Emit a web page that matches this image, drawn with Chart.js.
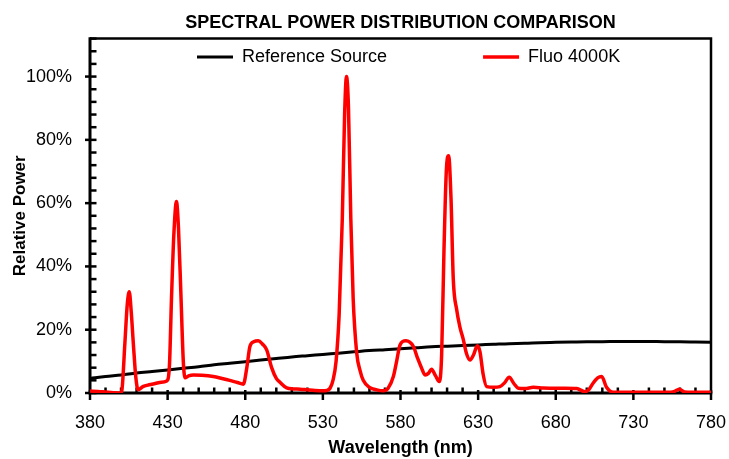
<!DOCTYPE html>
<html><head><meta charset="utf-8">
<script src="https://cdn.jsdelivr.net/npm/chart.js@4"></script>
<style>html,body{margin:0;padding:0;background:#fff;} canvas{display:block;}</style>
</head><body>
<canvas id="c" width="729" height="459"></canvas>
<script>
const chartTitle = 'SPECTRAL POWER DISTRIBUTION COMPARISON';
const seriesNames = ['Reference Source', 'Fluo 4000K'];
const xAxisTitle = 'Wavelength (nm)';
const yAxisTitle = 'Relative Power';
const xTickLabels = [380, 430, 480, 530, 580, 630, 680, 730, 780];
const yTickLabels = [0, 20, 40, 60, 80, 100];

const refWavelengths = [380,390,400,410,420,430,440,450,460,470,480,490,500,510,520,530,540,550,560,570,580,590,600,610,620,630,640,650,660,670,680,690,700,710,720,730,740,750,760,770,780];
const refPower = [4.6,5.2,5.7,6.3,6.8,7.3,7.8,8.3,8.9,9.4,9.9,10.4,10.9,11.4,11.8,12.2,12.6,13.0,13.4,13.7,14.0,14.3,14.6,14.8,15.0,15.2,15.4,15.6,15.7,15.9,16.0,16.1,16.2,16.2,16.3,16.3,16.3,16.2,16.2,16.1,16.0];

const fluoWavelengths = [380,385,390,395,399.3,400.4,402.5,404,405.3,406.5,408,409.5,411,414,418,422,426,429.4,431.1,432.5,434,435.7,437,438.5,440.1,441.2,443.5,446.6,452,459.4,465,470,475,478.8,481,483,485.5,488.4,491,493.8,497,500,502.4,506.7,511,515.3,520,525,530,532.5,534.6,536.5,538.5,540.5,542.5,544,545.2,546.5,548,549.5,551.8,554,556,560,564.7,568.9,572,575.4,577.5,579.7,583.5,588.3,591,593.5,595.8,598,600,602.5,605,606.5,608,609.5,611,612.5,614,616.2,618.2,620.5,622.5,624.8,627,629.5,631.2,633.2,635.5,640,644,647,650,653,655.9,660,665.6,672,679.5,686,693.5,698.8,701.5,704,707,709.6,712.7,717.1,725,735,745,752,756,759.6,763,768,775,780];
const fluoPower = [0.6,0.5,0.3,0.1,0.0,0.5,16,28,32,26,15,5,1.0,2.0,2.6,3.0,3.4,3.8,8,30,50,60.5,52,32,10,4.8,5.4,5.7,5.6,5.2,4.6,4.0,3.3,2.8,8,14.7,16.2,16.5,15.5,13.6,8,4.6,3.4,1.6,1.3,1.2,1.0,0.8,0.7,0.8,1.5,4,10,25,55,88,100,90,55,30,12.6,7,4,1.8,1.0,0.7,1.5,5.2,10,15.2,16.5,14.7,11,8,5.7,6.2,7.5,5.5,3.6,12,45,70,75,62,36,26.3,21,16.8,12.5,10.4,12,14.9,13,6,2.0,1.8,2.0,3.2,5.0,3.0,1.5,1.4,1.8,1.6,1.5,1.5,1.4,0.4,1.2,3.1,4.8,5.2,1.8,0.2,0.2,0.2,0.2,0.2,0.4,1.2,0.3,0.2,0.2,0.2];

Chart.defaults.font.family = "'Liberation Sans', Arial, sans-serif";
Chart.defaults.color = '#000';

const framePlugin = {
  id: 'frame',
  beforeLayout(chart) {
    const lg = chart.legend;
    if (lg && !lg._inside) {
      const fit = lg.fit;
      lg.fit = function () { fit.call(this); this.height = 0; };
      lg._inside = true;
    }
  },
  afterLayout(chart) {
    const lg = chart.legend;
    if (!lg) return;
    const pad = lg.options.labels.padding;
    const a = chart.chartArea;
    lg.left = a.left + 107 - pad;
    lg.right = chart.width;
    lg.top = a.top + 9.5 - pad;
    lg.bottom = a.top + 40;
    lg.width = lg.right - lg.left;
    lg.height = lg.bottom - lg.top;
  },
  beforeDatasetsDraw(chart) {
    const {ctx, chartArea: a, scales} = chart;
    const x = scales.x, y = scales.y;
    ctx.save();
    ctx.strokeStyle = '#000';
    ctx.lineCap = 'butt';
    ctx.lineWidth = 2.5;
    ctx.beginPath();
    ctx.moveTo(a.left, a.top); ctx.lineTo(a.right, a.top); ctx.lineTo(a.right, a.bottom);
    ctx.stroke();
    ctx.lineWidth = 3;
    ctx.beginPath();
    ctx.moveTo(a.left, a.top - 1.25); ctx.lineTo(a.left, a.bottom); ctx.lineTo(a.right + 1.25, a.bottom);
    ctx.stroke();
    ctx.lineWidth = 2.5;
    for (let v = x.min; v <= x.max; v += 10) {
      const px = x.getPixelForValue(v);
      const major = xTickLabels.includes(v);
      ctx.beginPath();
      ctx.moveTo(px, major ? a.bottom - 3 : a.bottom - 5.5);
      ctx.lineTo(px, major ? a.bottom + 7 : a.bottom);
      ctx.stroke();
    }
    for (let v = 0; v <= y.max; v += 4) {
      const py = y.getPixelForValue(v);
      const major = yTickLabels.includes(v);
      ctx.beginPath();
      ctx.moveTo(major ? a.left - 5 : a.left, py);
      ctx.lineTo(a.left + 6.5, py);
      ctx.stroke();
    }
    ctx.restore();
  }
};

new Chart(document.getElementById('c'), {
  type: 'line',
  data: {
    datasets: [
      {
        label: seriesNames[0],
        data: refWavelengths.map((w, i) => ({x: w, y: refPower[i]})),
        borderColor: '#000000',
        backgroundColor: '#000000',
        borderWidth: 3,
        pointRadius: 0, pointHoverRadius: 0, pointStyle: 'line',
        cubicInterpolationMode: 'monotone',
        fill: false,
        order: 1
      },
      {
        label: seriesNames[1],
        data: fluoWavelengths.map((w, i) => ({x: w, y: fluoPower[i]})),
        borderColor: '#ff0000',
        backgroundColor: '#ff0000',
        borderWidth: 3.5,
        pointRadius: 0, pointHoverRadius: 0, pointStyle: 'line',
        cubicInterpolationMode: 'monotone',
        fill: false,
        order: 0
      }
    ]
  },
  options: {
    responsive: false,
    devicePixelRatio: 1,
    animation: false,
    layout: {padding: {left: 0, right: 0, top: 0, bottom: 0}},
    plugins: {
      tooltip: {enabled: false},
      title: {
        display: true, text: chartTitle, fullSize: false, color: '#000',
        font: {size: 18, weight: 'bold'},
        padding: {top: 12, bottom: 5}
      },
      legend: {
        display: true, position: 'top', align: 'start',
        labels: {
          usePointStyle: true, pointStyleWidth: 36, padding: 96,
          color: '#000', font: {size: 18},
          sort: (a, b) => a.datasetIndex - b.datasetIndex
        }
      }
    },
    scales: {
      x: {
        type: 'linear', min: 380, max: 780,
        afterBuildTicks: s => { s.ticks = xTickLabels.map(v => ({value: v})); },
        afterFit: s => { s.height = 66; s.paddingRight = 18; s.paddingLeft = 0; },
        ticks: {color: '#000', font: {size: 18}, padding: 19, maxRotation: 0, autoSkip: false},
        grid: {display: false, drawTicks: false},
        border: {display: false},
        title: {display: true, text: xAxisTitle, color: '#000', font: {size: 18, weight: 'bold'}, padding: {top: 0, bottom: 0}}
      },
      y: {
        type: 'linear', min: 0, max: 112,
        afterBuildTicks: s => { s.ticks = yTickLabels.map(v => ({value: v})); },
        afterFit: s => { s.width = 90; },
        ticks: {color: '#000', font: {size: 18}, padding: 18, callback: v => v + '%'},
        grid: {display: false, drawTicks: false},
        border: {display: false},
        title: {display: true, text: yAxisTitle, color: '#000', font: {size: 17, weight: 'bold'}, padding: {top: 10, bottom: 0}}
      }
    }
  },
  plugins: [framePlugin]
});
</script>
</body></html>
